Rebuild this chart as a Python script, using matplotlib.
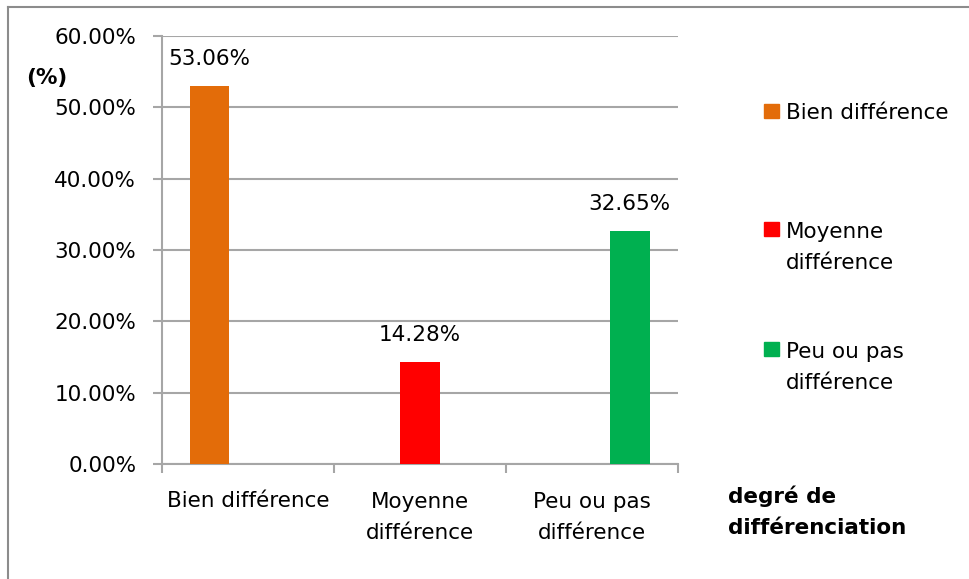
import matplotlib.pyplot as plt
from matplotlib.lines import Line2D
import numpy as np

# Données
categories = ["Bien différence", "Moyenne\ndifférence", "Peu ou pas\ndifférence"]
series_names = ["Bien différence", "Moyenne\ndifférence", "Peu ou pas\ndifférence"]
values = [53.06, 14.28, 32.65]
value_labels = ["53.06%", "14.28%", "32.65%"]
colors = ["#E36C09", "#FF0000", "#00B050"]
y_ticks = [0, 10, 20, 30, 40, 50, 60]

W, H = 970, 579
FS = 15.5
LS = 1.7
LINE_PX = 32  # écart entre lignes de texte (px)
fig = plt.figure(figsize=(W / 100, H / 100), dpi=100)
plt.rcParams["font.family"] = ["DejaVu Sans"]


def extra(txt):
    # va='baseline' se cale sur la dernière ligne
    return (txt.count("\n")) * LINE_PX


# cadre extérieur (seulement haut et gauche visibles)
frame_col = "#8C8C8C"
fig.lines.append(Line2D([8.5 / W, 1], [1 - 6.5 / H, 1 - 6.5 / H], transform=fig.transFigure,
                        color=frame_col, linewidth=1.5))
fig.lines.append(Line2D([8.5 / W, 8.5 / W], [0, 1 - 6.5 / H], transform=fig.transFigure,
                        color=frame_col, linewidth=1.5))

ax = fig.add_axes([162 / W, 1 - 464 / H, (678 - 162) / W, (464 - 36) / H])

x = np.arange(len(categories))
width = 0.23
offsets = [-0.225, 0.0, 0.22]
grid_col = "#A6A6A6"

for i, (v, c, lab) in enumerate(zip(values, colors, value_labels)):
    ax.bar(x[i] + offsets[i], v, width=width, color=c, zorder=3)
    ax.annotate(lab, (x[i] + offsets[i], v), xytext=(0, 27), textcoords="offset pixels",
                ha="center", va="center", fontsize=FS)

ax.set_xlim(-0.5, 2.5)
ax.set_ylim(0, 60)
ax.set_yticks(y_ticks)
ax.set_yticklabels([f"{t:.2f}%" for t in y_ticks], fontsize=FS)
ax.yaxis.grid(True, color=grid_col, linewidth=1.5, zorder=0)

# graduations x aux limites des catégories
ax.set_xticks([-0.5, 0.5, 1.5, 2.5])
ax.set_xticklabels([])
ax.tick_params(axis="x", length=6.5, color=grid_col, width=1.5)
ax.tick_params(axis="y", length=6.5, color=grid_col, width=1.5, pad=12)
for i, cat in enumerate(categories):
    ax.annotate(cat, (x[i], 0), xytext=(0, -43 - extra(cat)), textcoords="offset pixels",
                ha="center", va="baseline", fontsize=FS, linespacing=LS)

for s in ["top", "right"]:
    ax.spines[s].set_visible(False)
for s in ["left", "bottom"]:
    ax.spines[s].set_color(grid_col)
    ax.spines[s].set_linewidth(1.5)

# titres d'axes
fig.text(47 / W, 1 - 78 / H, "(%)", ha="center", va="center", fontsize=FS, fontweight="bold")
xtitle = "degré de\ndifférenciation"
fig.text(728 / W, 1 - (502 + extra(xtitle)) / H, xtitle, ha="left", va="baseline",
         fontsize=FS, fontweight="bold", linespacing=LS)

# légende
legend_base = [119, 237, 357]
for name, c, ly in zip(series_names, colors, legend_base):
    fig.patches.append(plt.Rectangle((764 / W, 1 - (ly - 1) / H), 15 / W, 14 / H,
                                     transform=fig.transFigure, color=c))
    fig.text(786 / W, 1 - (ly + extra(name)) / H, name, ha="left", va="baseline",
             fontsize=FS, linespacing=LS)

fig.savefig("out.png", dpi=100)
